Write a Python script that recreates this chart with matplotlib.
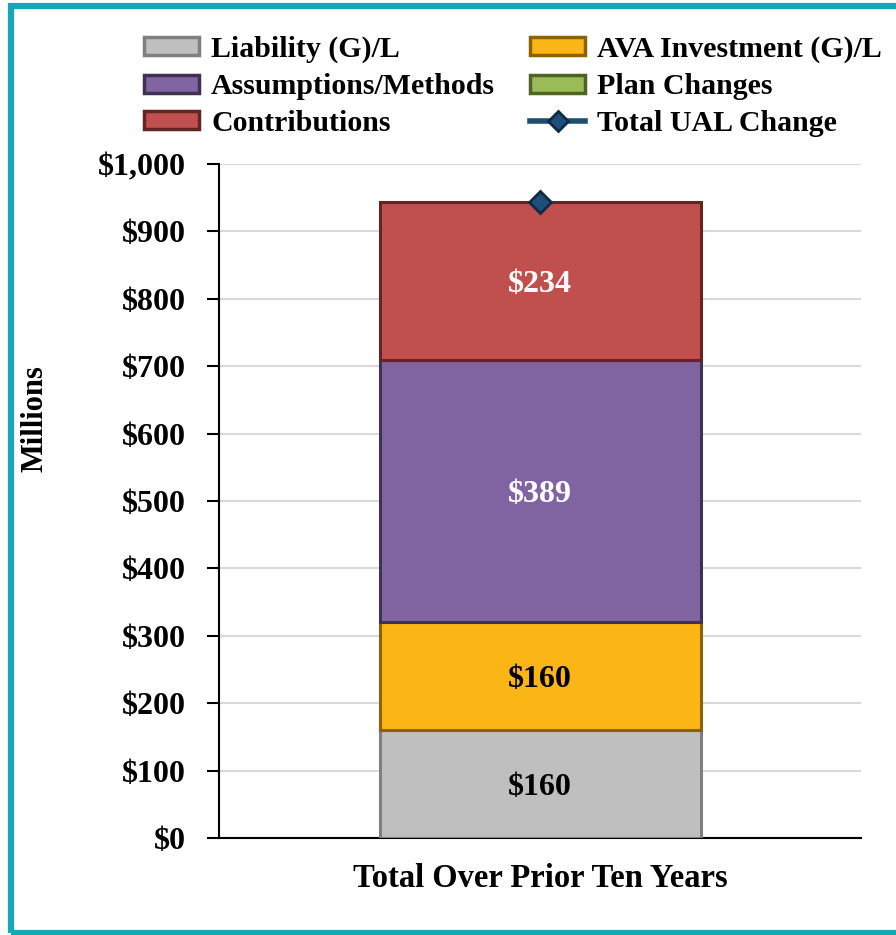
import matplotlib
matplotlib.use("Agg")
import matplotlib.pyplot as plt
from matplotlib.patches import Rectangle, Patch
from matplotlib.lines import Line2D
from matplotlib.ticker import FuncFormatter, MultipleLocator

plt.rcParams['font.family'] = ['Liberation Serif', 'DejaVu Serif']
plt.rcParams['font.weight'] = 'bold'

category = ["Total Over Prior Ten Years"]
series_names = ["Liability (G)/L", "AVA Investment (G)/L", "Assumptions/Methods",
                "Plan Changes", "Contributions"]
liability = [160]
ava_investment = [160]
assumptions = [389]
plan_changes = [0]
contributions = [234]
total_ual = [943]
label_text = ["$160", "$160", "$389", None, "$234"]

faces = ["#BFBFBF", "#FBB616", "#8064A2", "#9BBB59", "#C0504D"]
edges = ["#7F7F7F", "#8C6200", "#3F3151", "#4F6228", "#632523"]
label_colors = ["black", "black", "white", "white", "white"]

fig = plt.figure(figsize=(8.96, 9.35), dpi=100)
ax = fig.add_axes([219/896, 1-838/935, (861-219)/896, (838-164)/935])

x = [0]
bottom = [0]
vals_list = [liability, ava_investment, assumptions, plan_changes, contributions]
for vals, fc, ec, lab, lc in zip(vals_list, faces, edges, label_text, label_colors):
    if vals[0] > 0:
        ax.bar(x, vals, bottom=bottom, width=1.0, color=fc, edgecolor=ec,
               linewidth=2.2, zorder=3)
        if lab:
            ax.text(x[0], bottom[0] + vals[0] / 2, lab, ha='center', va='center_baseline',
                    fontsize=23, fontweight='bold', color=lc, zorder=5)
    bottom = [bottom[0] + vals[0]]

ax.plot(x, total_ual, marker='D', markersize=11, color='#1F4E79',
        markeredgecolor='#0D2B45', markeredgewidth=2, linewidth=0, zorder=6)

ax.set_xlim(-1, 1)
ax.set_ylim(0, 1000)
ax.yaxis.set_major_locator(MultipleLocator(100))
ax.yaxis.set_major_formatter(FuncFormatter(lambda v, p: f"${v:,.0f}"))
ax.set_xticks(x)
ax.set_xticklabels(category, fontsize=23.5, fontweight='bold')
ax.tick_params(axis='x', length=0, pad=18)
ax.tick_params(axis='y', length=9, width=1.5, labelsize=23, pad=15)
for t in ax.get_yticklabels():
    t.set_fontweight('bold')
ax.grid(axis='y', color='#D9D9D9', linewidth=1.5, zorder=0)
ax.set_axisbelow(True)
for s in ['top', 'right']:
    ax.spines[s].set_visible(False)
ax.spines['left'].set_linewidth(1.5)
ax.spines['bottom'].set_linewidth(1.5)
ax.set_ylabel("Millions", fontsize=22, fontweight='bold')
ax.yaxis.set_label_coords(-170/642, (838-419)/674)

handles = [Patch(facecolor=faces[i], edgecolor=edges[i], linewidth=2.5) for i in range(5)]
uline = Line2D([], [], color='#1B4F72', linewidth=4, marker='D', markersize=10,
               markerfacecolor='#1F4E79', markeredgecolor='#0D2B45', markeredgewidth=2)

leg_kw = dict(loc='upper left', frameon=False, prop={'size': 21.5, 'weight': 'bold'},
              handlelength=1.85, handleheight=0.55, labelspacing=0.33,
              handletextpad=0.4, borderpad=0, borderaxespad=0)
leg1 = fig.legend([handles[0], handles[2], handles[4]],
                  [series_names[0], series_names[2], series_names[4]],
                  bbox_to_anchor=(144/896, 1-36/935), **leg_kw)
leg2 = fig.legend([handles[1], handles[3], uline],
                  [series_names[1], series_names[3], "Total UAL Change"],
                  bbox_to_anchor=(530/896, 1-36/935), **leg_kw)

fig.patches.append(Rectangle((10.5/896, 2.5/935), 2, 1-8/935, transform=fig.transFigure,
                             fill=False, edgecolor='#17A6B8', linewidth=4.5, zorder=10))

fig.savefig("out.png", dpi=100)
